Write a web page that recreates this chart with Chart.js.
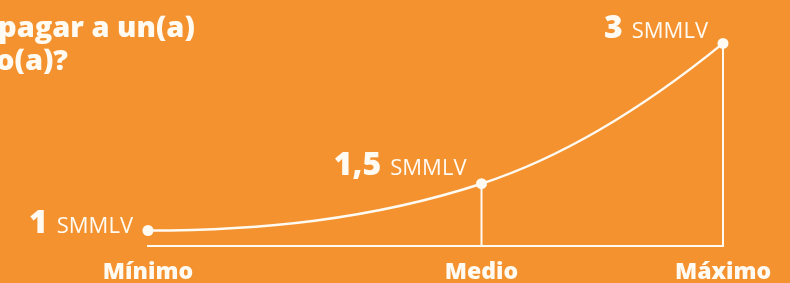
<!DOCTYPE html>
<html>
<head>
<meta charset="utf-8">
<script src="https://cdn.jsdelivr.net/npm/chart.js@4"></script>
<style>
	html, body { margin: 0; padding: 0; background: #F3922F; }
	#caja { width: 790px; height: 283px; position: relative; }
</style>
</head>
<body>
<div id="caja"><canvas id="canvas_smmlv"></canvas></div>
<script>
// niveles de pago (SMMLV)
var niveles = [ "Mínimo", "Medio", "Máximo" ];
var ejeX = [ 0, 0.58, 1 ];
var valores = [ 1, 1.5, 3 ];
var unidad = "SMMLV";
var titulo = [ "pagar a un(a)", "o(a)?" ];

var blanco = "#fffaf2";

// dibuja la curva, las lineas verticales y los textos
var curvaPlugin = {
	id : "curva",
	beforeDatasetsDraw : function(chart) {
		var ctx = chart.ctx;
		var p = chart.getDatasetMeta(0).data;
		var fondo = chart.chartArea.bottom;
		ctx.save();
		ctx.strokeStyle = blanco;
		ctx.lineWidth = 2;
		// verticales desde Medio y Maximo
		for (var i = 1; i < p.length; i++) {
			ctx.beginPath();
			ctx.moveTo(p[i].x, p[i].y);
			ctx.lineTo(p[i].x, fondo);
			ctx.stroke();
		}
		// curva
		var s1 = (p[2].y - p[0].y) / (p[2].x - p[0].x);
		var s2 = 1.4 * (p[2].y - p[1].y) / (p[2].x - p[1].x);
		var d1 = p[1].x - p[0].x, d2 = p[2].x - p[1].x;
		ctx.lineWidth = 2.5;
		ctx.beginPath();
		ctx.moveTo(p[0].x, p[0].y);
		ctx.bezierCurveTo(p[0].x + d1 / 3, p[0].y, p[1].x - d1 / 3, p[1].y
				- s1 * d1 / 3, p[1].x, p[1].y);
		ctx.bezierCurveTo(p[1].x + d2 / 3, p[1].y + s1 * d2 / 3, p[2].x - d2
				/ 3, p[2].y - s2 * d2 / 3, p[2].x, p[2].y);
		ctx.stroke();
		ctx.restore();
	},
	afterDatasetsDraw : function(chart) {
		var ctx = chart.ctx;
		var p = chart.getDatasetMeta(0).data;
		var ajuste = [ 3, -9, -5 ];
		ctx.save();
		ctx.fillStyle = blanco;
		ctx.textAlign = "right";
		ctx.textBaseline = "alphabetic";
		for (var i = 0; i < p.length; i++) {
			var x = p[i].x - 15;
			var y = p[i].y + ajuste[i];
			ctx.font = "400 22px 'Open Sans'";
			ctx.fillText(unidad, x, y);
			var w = ctx.measureText(unidad).width;
			ctx.font = "800 32px 'Open Sans'";
			ctx.fillText(String(valores[i]).replace(".", ","), x - w - 9, y);
		}
		// titulo cortado arriba a la izquierda
		ctx.textAlign = "left";
		ctx.font = "800 29px 'Open Sans'";
		ctx.fillText(titulo[0], -2, 37);
		ctx.fillText(titulo[1], -4, 70);
		ctx.restore();
	}
};

var grafico = new Chart(document.getElementById("canvas_smmlv"), {
	type : 'line',
	data : {
		labels : niveles,
		datasets : [ {
			data : ejeX.map(function(x, i) {
				return {
					x : x,
					y : valores[i]
				};
			}),
			showLine : false,
			pointRadius : 5.5,
			pointHoverRadius : 5.5,
			pointBorderWidth : 0,
			pointBackgroundColor : blanco,
			clip : false
		} ]
	},
	options : {
		responsive : true,
		maintainAspectRatio : false,
		animation : false,
		layout : {
			padding : {
				left : 148,
				right : 67,
				top : 20,
				bottom : -15
			}
		},
		plugins : {
			legend : {
				display : false
			},
			tooltip : {
				enabled : false
			}
		},
		scales : {
			x : {
				type : 'linear',
				min : ejeX[0],
				max : ejeX[ejeX.length - 1],
				afterBuildTicks : function(scale) {
					scale.ticks = ejeX.map(function(v) {
						return {
							value : v
						};
					});
				},
				grid : {
					display : false,
					drawTicks : false
				},
				border : {
					display : true,
					color : blanco,
					width : 2
				},
				ticks : {
					autoSkip : false,
					maxRotation : 0,
					padding : 12,
					color : blanco,
					font : {
						family : "'Open Sans'",
						size : 23,
						weight : '800'
					},
					callback : function(value, index) {
						return niveles[index];
					}
				}
			},
			y : {
				display : false,
				min : 0.83,
				max : 3.25
			}
		}
	},
	plugins : [ curvaPlugin ]
});
</script>
</body>
</html>
